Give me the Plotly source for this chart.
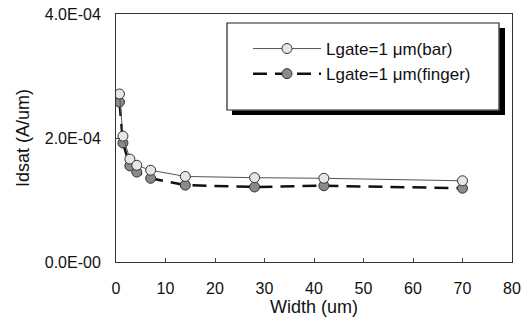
import plotly.graph_objects as go

width_um = [0.7, 1.4, 2.8, 4.2, 7, 14, 28, 42, 70]
idsat_bar = [2.71e-4, 2.03e-4, 1.66e-4, 1.56e-4, 1.48e-4, 1.38e-4, 1.36e-4, 1.35e-4, 1.31e-4]
idsat_finger = [2.58e-4, 1.92e-4, 1.55e-4, 1.45e-4, 1.35e-4, 1.24e-4, 1.21e-4, 1.23e-4, 1.19e-4]
y_tickvals = [0, 2e-4, 4e-4]
y_ticktext = ["0.0E-00", "2.0E-04", "4.0E-04"]
x_tickvals = [0, 10, 20, 30, 40, 50, 60, 70, 80]
series_names = ["Lgate=1 \u03bcm(bar)", "Lgate=1 \u03bcm(finger)"]

FONT = "Liberation Sans, Arial, sans-serif"

fig = go.Figure()
fig.add_trace(go.Scatter(
    x=width_um, y=idsat_finger, name=series_names[1], mode="lines+markers",
    line=dict(color="#111111", width=2.5, dash="14px,8px"),
    marker=dict(symbol="circle", size=10, color="#8a8a8a", line=dict(color="#333333", width=1)),
    legendrank=2,
))
fig.add_trace(go.Scatter(
    x=width_um, y=idsat_bar, name=series_names[0], mode="lines+markers",
    line=dict(color="#555555", width=1),
    marker=dict(symbol="circle", size=10, color="#e6e6e6", line=dict(color="#333333", width=1)),
    legendrank=1,
))

PL, PW, PB, PH = 116, 396, 262, 248
def px(x):
    return (x - PL) / PW
def py(y):
    return (PB - y) / PH

# legend frame
fig.add_shape(type="rect", xref="paper", yref="paper", x0=px(227), x1=px(499),
              y0=py(110), y1=py(23), fillcolor="white", line=dict(color="#222222", width=1.2), layer="above")
# drop shadow (right + bottom strips)
fig.add_shape(type="rect", xref="paper", yref="paper", x0=px(499.5), x1=px(505),
              y0=py(115), y1=py(28), fillcolor="black", line=dict(width=0), layer="above")
fig.add_shape(type="rect", xref="paper", yref="paper", x0=px(232), x1=px(505),
              y0=py(115), y1=py(110.5), fillcolor="black", line=dict(width=0), layer="above")

fig.update_layout(
    width=531, height=331,
    margin=dict(l=116, r=19, t=14, b=69, autoexpand=False),
    paper_bgcolor="white", plot_bgcolor="white",
    font=dict(family=FONT, size=16, color="#111111"),
    showlegend=True,
    legend=dict(x=px(248), y=py(31), xanchor="left", yanchor="top",
                bgcolor="rgba(0,0,0,0)", borderwidth=0, itemwidth=68,
                font=dict(family=FONT, size=17), traceorder="normal", tracegroupgap=0),
    xaxis=dict(range=[0, 80], tickvals=x_tickvals, ticks="inside", ticklen=4,
               showline=True, linecolor="#333333", linewidth=1, mirror=True,
               showgrid=False, zeroline=False, ticklabelstandoff=12,
               title=dict(text="Width (um)", font=dict(size=18), standoff=1),
               tickfont=dict(size=16)),
    yaxis=dict(range=[0, 4e-4], tickvals=y_tickvals, ticktext=y_ticktext, ticks="inside", ticklen=4,
               showline=True, linecolor="#333333", linewidth=1, mirror=True,
               showgrid=False, zeroline=False, ticklabelstandoff=11,
               title=dict(text="Idsat (A/um)", font=dict(size=18), standoff=10),
               tickfont=dict(size=16)),
)

fig.write_html("out.html")
